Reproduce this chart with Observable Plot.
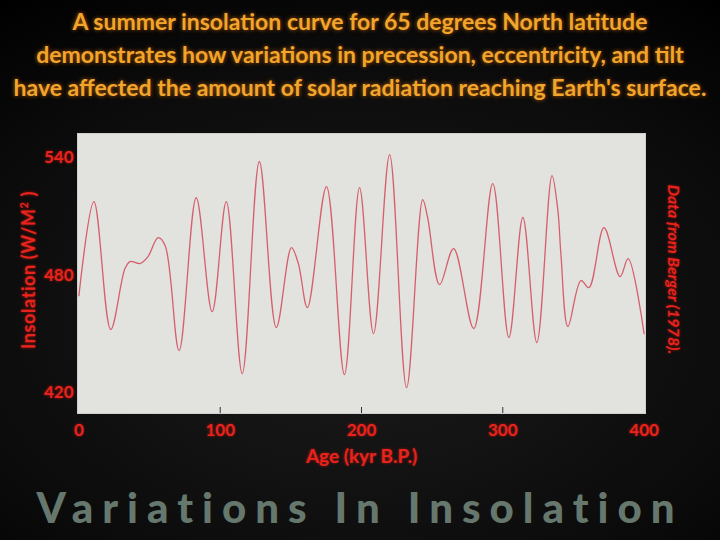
<!DOCTYPE html>
<html><head><meta charset="utf-8">
<script src="https://cdn.jsdelivr.net/npm/d3@7"></script>
<script src="https://cdn.jsdelivr.net/npm/@observablehq/plot@0.6"></script>
<style>
html,body{margin:0;padding:0;background:#000;}
#wrap{position:relative;width:720px;height:540px;overflow:hidden;background:radial-gradient(ellipse 85% 75% at 50% 60%, #1c1c1c 0%, #0a0a0a 70%, #000 100%);font-family:Lato, sans-serif;}
#title{position:absolute;left:0;top:5px;width:720px;text-align:center;color:#f2a52c;font-weight:700;font-size:23px;line-height:33px;text-shadow:0 0 4px rgba(230,120,0,0.75);}
#bottom{position:absolute;left:0;top:482px;width:720px;text-align:center;color:#66786e;font-weight:900;font-size:42px;letter-spacing:9px;}
#ylabel{position:absolute;left:28px;top:270px;transform:translate(-50%,-50%) rotate(-90deg);white-space:nowrap;color:#e8231c;font-weight:700;font-size:18px;letter-spacing:0.6px;text-shadow:0 0 3px rgba(255,30,20,0.6);}
#ylabel sup{font-size:11px;vertical-align:7px;line-height:0;}
#chart{position:absolute;left:0;top:0;}
#chart svg text{text-shadow:0 0 3px rgba(255,30,20,0.6);}
</style></head><body><div id="wrap"><div id="chart"></div>
<div id="title">A summer insolation curve for 65 degrees North latitude<br>demonstrates how variations in precession, eccentricity, and tilt<br>have affected the amount of solar radiation reaching Earth's surface.</div>
<div id="ylabel">Insolation (W/M<sup>2</sup> )</div>
<div id="bottom">Variations In Insolation</div></div>
<script>
const age = [0, 10.6, 22.5, 32.6, 36.2, 43.3, 48.9, 56.0, 61.0, 70.9, 83.0, 94.3, 104.3, 115.6, 127.7, 139.7, 150.4, 155.3, 161.7, 175.2, 187.9, 198.6, 208.5, 219.9, 231.9, 243.3, 246.8, 255.3, 265.2, 279.4, 292.9, 304.3, 314.2, 324.1, 334.8, 339.0, 341.1, 346.1, 355.3, 361.0, 371.6, 383.0, 388.7, 400];
const insolation = [469.5, 517.5, 452.2, 483.3, 486.9, 485.9, 489.4, 499.1, 495.1, 441.4, 519.6, 461.3, 517.5, 429.7, 538.0, 453.2, 494.0, 485.9, 463.4, 525.2, 429.2, 524.7, 450.1, 541.5, 422.5, 518.5, 509.4, 475.1, 493.5, 452.7, 526.7, 448.1, 509.4, 445.5, 530.8, 512.9, 491.0, 453.7, 477.2, 473.6, 504.2, 479.2, 488.4, 450.1];
const xTicks = [0, 100, 200, 300, 400];
const innerTicks = [100, 200, 300];
const yTicks = [420, 480, 540];
const xLabel = "Age (kyr B.P.)";
const source = "Data from Berger (1978).";

const data = age.map((a, i) => ({age: a, value: insolation[i]}));
const red = "#e8231c";
const chart = Plot.plot({
  width: 720, height: 540,
  marginLeft: 77, marginRight: 75, marginTop: 133, marginBottom: 127,
  style: {background: "transparent", fontFamily: "Lato, sans-serif"},
  x: {domain: [-1, 401]},
  y: {domain: [409.3, 552.3]},
  marks: [
    Plot.frame({fill: "#e2e2df", stroke: "#cfcfcb"}),
    Plot.tickX(innerTicks, {x: d => d, stroke: "#333", insetTop: 274}),
    Plot.line(data, {x: "age", y: "value", stroke: "#d65f6c", strokeWidth: 1.3, curve: "catmull-rom"}),
    Plot.axisX({ticks: xTicks, tickSize: 0, tickPadding: 10, fill: red, fontSize: 17, fontWeight: 700, label: null}),
    Plot.axisY({ticks: yTicks, tickSize: 0, tickPadding: 4, fill: red, fontSize: 17, fontWeight: 700, label: null}),
    Plot.text([xLabel], {frameAnchor: "bottom", dy: 49, fill: red, fontSize: 19, fontWeight: 700}),
    Plot.text([source], {frameAnchor: "right", dx: 28, dy: -4, rotate: 90, textAnchor: "middle", fill: red, fontSize: 16, fontStyle: "italic", fontWeight: 700})
  ]
});
document.getElementById("chart").appendChild(chart);
</script></body></html>
